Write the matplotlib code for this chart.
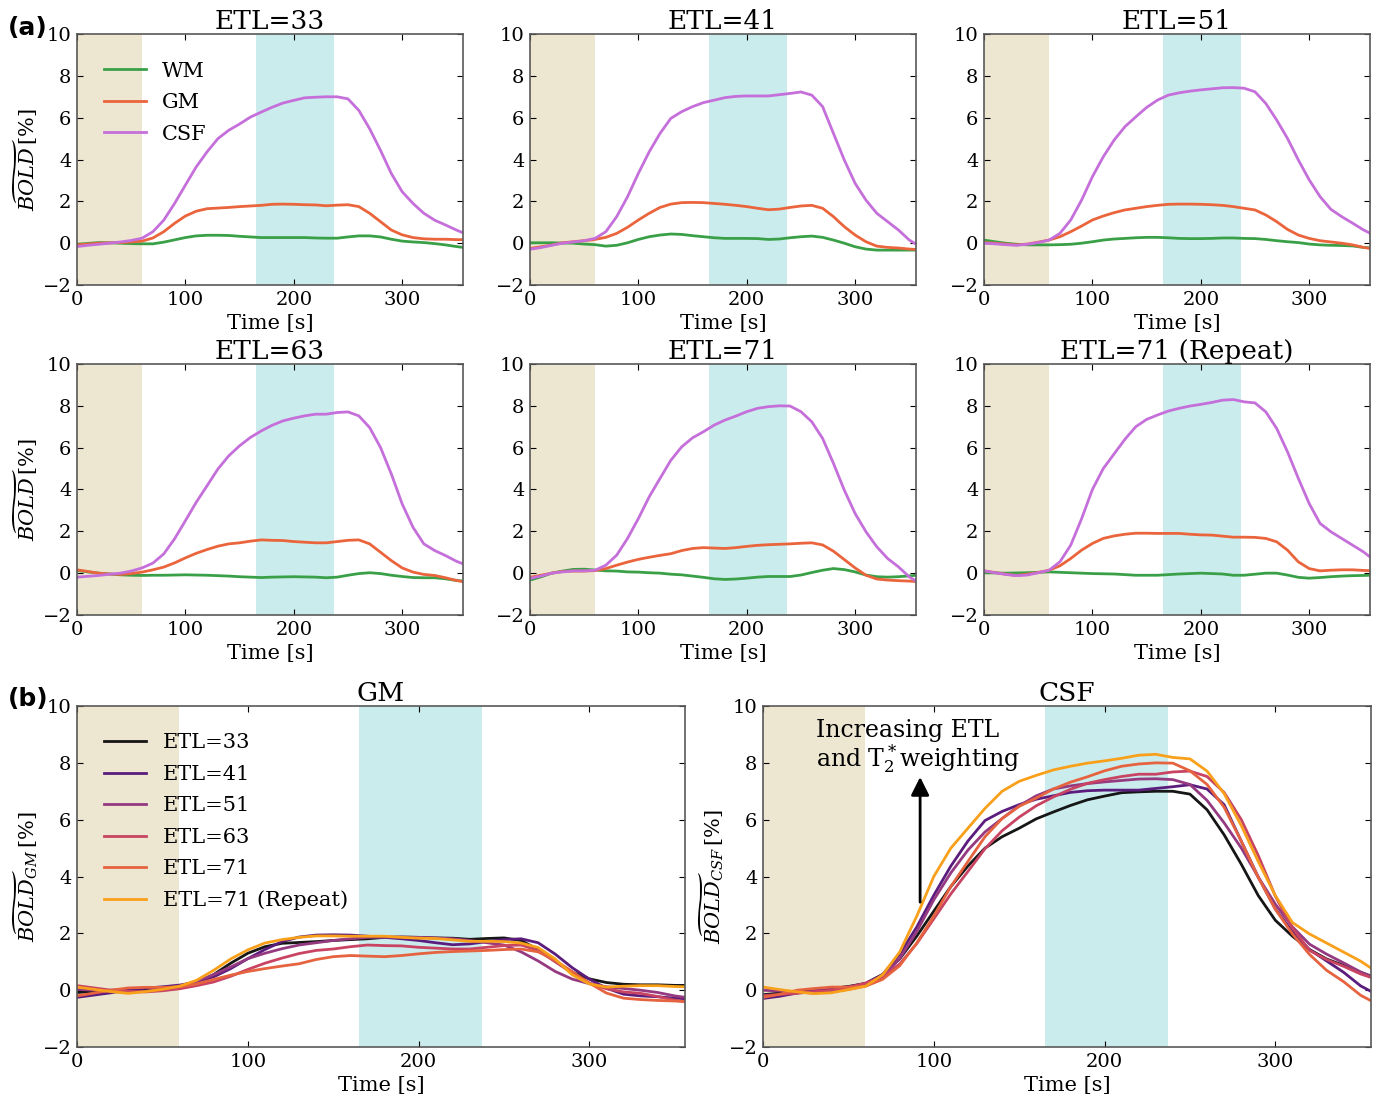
import numpy as np
import matplotlib
matplotlib.use("Agg")
import matplotlib.pyplot as plt

# ── Time axis (s) and stimulus windows ─────────────────────────────────────────
TIME = [0, 10, 20, 30, 40, 50, 60, 70, 80, 90, 100, 110, 120, 130, 140, 150,
        160, 170, 180, 190, 200, 210, 220, 230, 240, 250, 260, 270, 280, 290,
        300, 310, 320, 330, 340, 350, 356]
BASELINE_WIN = (0, 60)
PLATEAU_WIN = (165, 237)

RUNS = ["ETL=33", "ETL=41", "ETL=51", "ETL=63", "ETL=71", "ETL=71 (Repeat)"]

# ── Tissue-averaged BOLD time courses (%) ──────────────────────────────────────
wm_33 = [-0.05, -0.01, 0.03, 0.02, 0.0, -0.02, -0.03, -0.03, 0.05, 0.16, 0.27,
         0.35, 0.38, 0.38, 0.37, 0.33, 0.3, 0.27, 0.27, 0.27, 0.27, 0.27, 0.25,
         0.24, 0.24, 0.3, 0.35, 0.35, 0.3, 0.19, 0.1, 0.06, 0.03, -0.02, -0.08,
         -0.16, -0.2]
gm_33 = [-0.08, -0.04, 0.0, 0.02, 0.03, 0.06, 0.1, 0.25, 0.55, 0.95, 1.3, 1.53,
         1.65, 1.68, 1.71, 1.75, 1.78, 1.81, 1.86, 1.87, 1.86, 1.84, 1.83, 1.79,
         1.82, 1.84, 1.75, 1.43, 1.03, 0.63, 0.4, 0.27, 0.21, 0.19, 0.19, 0.17,
         0.17]
csf_33 = [-0.16, -0.1, -0.05, 0.0, 0.06, 0.13, 0.24, 0.55, 1.1, 1.9, 2.78, 3.65,
          4.37, 5.0, 5.4, 5.7, 6.03, 6.27, 6.5, 6.7, 6.83, 6.95, 6.98, 7.0, 7.0,
          6.9, 6.35, 5.47, 4.44, 3.33, 2.46, 1.9, 1.43, 1.1, 0.87, 0.63, 0.5]

wm_41 = [0.02, 0.02, 0.02, 0.01, 0.0, -0.04, -0.07, -0.14, -0.1, 0.02, 0.18,
         0.31, 0.39, 0.44, 0.42, 0.36, 0.31, 0.26, 0.23, 0.23, 0.23, 0.22, 0.18,
         0.2, 0.26, 0.31, 0.34, 0.28, 0.15, 0.0, -0.17, -0.28, -0.33, -0.33,
         -0.33, -0.33, -0.33]
gm_41 = [-0.25, -0.17, -0.09, 0.02, 0.07, 0.12, 0.18, 0.28, 0.47, 0.76, 1.11,
         1.43, 1.71, 1.87, 1.94, 1.95, 1.94, 1.9, 1.86, 1.81, 1.75, 1.67, 1.6,
         1.63, 1.71, 1.78, 1.81, 1.67, 1.27, 0.79, 0.39, 0.07, -0.14, -0.2,
         -0.23, -0.28, -0.3]
csf_41 = [-0.29, -0.21, -0.1, 0.0, 0.06, 0.12, 0.23, 0.55, 1.27, 2.22, 3.34,
          4.37, 5.25, 5.97, 6.29, 6.53, 6.72, 6.84, 6.96, 7.02, 7.04, 7.04, 7.04,
          7.1, 7.16, 7.23, 7.08, 6.53, 5.25, 3.98, 2.86, 2.06, 1.43, 1.03, 0.63,
          0.15, -0.04]

wm_51 = [0.15, 0.07, 0.0, -0.05, -0.08, -0.08, -0.08, -0.07, -0.05, 0.0, 0.07,
         0.15, 0.2, 0.23, 0.26, 0.28, 0.28, 0.26, 0.23, 0.22, 0.22, 0.23, 0.25,
         0.25, 0.23, 0.22, 0.18, 0.12, 0.07, 0.03, -0.04, -0.08, -0.1, -0.11,
         -0.13, -0.2, -0.22]
gm_51 = [0.03, 0.0, -0.04, -0.08, -0.04, 0.05, 0.15, 0.31, 0.55, 0.82, 1.11,
         1.3, 1.46, 1.59, 1.67, 1.75, 1.81, 1.86, 1.87, 1.87, 1.86, 1.84, 1.81,
         1.75, 1.67, 1.59, 1.35, 1.03, 0.66, 0.39, 0.23, 0.12, 0.06, 0.0, -0.08,
         -0.2, -0.25]
csf_51 = [0.0, -0.03, -0.07, -0.1, -0.05, 0.03, 0.15, 0.47, 1.11, 2.06, 3.18,
          4.13, 4.93, 5.57, 6.04, 6.49, 6.84, 7.08, 7.19, 7.27, 7.33, 7.38, 7.43,
          7.44, 7.41, 7.24, 6.68, 5.89, 5.01, 3.98, 3.03, 2.23, 1.62, 1.27, 0.96,
          0.64, 0.48]

wm_63 = [0.13, 0.06, 0.0, -0.04, -0.08, -0.1, -0.11, -0.1, -0.1, -0.09, -0.08,
         -0.09, -0.1, -0.12, -0.14, -0.17, -0.19, -0.21, -0.19, -0.18, -0.17,
         -0.18, -0.19, -0.22, -0.19, -0.1, -0.02, 0.02, -0.02, -0.1, -0.16,
         -0.21, -0.22, -0.22, -0.27, -0.35, -0.38]
gm_63 = [0.16, 0.08, 0.0, -0.04, -0.06, -0.02, 0.05, 0.16, 0.29, 0.49, 0.73,
         0.95, 1.13, 1.29, 1.4, 1.45, 1.53, 1.59, 1.57, 1.56, 1.51, 1.48, 1.45,
         1.45, 1.51, 1.57, 1.59, 1.4, 1.0, 0.6, 0.25, 0.05, -0.06, -0.11, -0.22,
         -0.35, -0.4]
csf_63 = [-0.19, -0.15, -0.11, -0.05, 0.0, 0.1, 0.25, 0.48, 0.92, 1.64, 2.51,
          3.39, 4.18, 4.98, 5.61, 6.09, 6.49, 6.8, 7.07, 7.28, 7.41, 7.52, 7.6,
          7.6, 7.68, 7.71, 7.52, 6.96, 6.01, 4.74, 3.31, 2.19, 1.4, 1.08, 0.84,
          0.57, 0.45]

wm_71 = [-0.33, -0.18, 0.0, 0.1, 0.18, 0.19, 0.15, 0.11, 0.1, 0.06, 0.05, 0.02,
         0.0, -0.05, -0.08, -0.14, -0.2, -0.27, -0.3, -0.28, -0.24, -0.19,
         -0.16, -0.16, -0.16, -0.09, 0.03, 0.14, 0.22, 0.17, 0.06, -0.09, -0.17,
         -0.19, -0.17, -0.13, -0.1]
gm_71 = [-0.2, -0.1, 0.0, 0.08, 0.1, 0.1, 0.12, 0.22, 0.38, 0.53, 0.66, 0.76,
         0.85, 0.93, 1.08, 1.18, 1.22, 1.2, 1.18, 1.22, 1.28, 1.33, 1.36, 1.38,
         1.4, 1.43, 1.45, 1.35, 1.05, 0.65, 0.25, -0.1, -0.28, -0.33, -0.36,
         -0.38, -0.4]
csf_71 = [-0.25, -0.14, 0.0, 0.06, 0.11, 0.11, 0.14, 0.38, 0.86, 1.66, 2.61,
          3.65, 4.53, 5.4, 6.04, 6.47, 6.76, 7.08, 7.32, 7.51, 7.72, 7.88, 7.96,
          8.0, 7.99, 7.72, 7.24, 6.44, 5.25, 3.97, 2.85, 1.98, 1.26, 0.7, 0.3,
          -0.18, -0.37]

wm_71r = [0.02, 0.01, 0.0, 0.01, 0.02, 0.04, 0.06, 0.04, 0.02, 0.0, -0.02,
          -0.03, -0.04, -0.07, -0.1, -0.1, -0.1, -0.07, -0.04, -0.02, 0.0,
          -0.02, -0.04, -0.1, -0.1, -0.05, 0.0, 0.0, -0.09, -0.2, -0.24, -0.21,
          -0.17, -0.14, -0.12, -0.11, -0.1]
gm_71r = [0.11, 0.03, -0.05, -0.11, -0.05, 0.03, 0.14, 0.35, 0.7, 1.1, 1.42,
          1.66, 1.78, 1.86, 1.91, 1.91, 1.9, 1.9, 1.9, 1.86, 1.83, 1.82, 1.77,
          1.72, 1.72, 1.71, 1.66, 1.5, 1.1, 0.54, 0.22, 0.11, 0.14, 0.16, 0.16,
          0.13, 0.12]
csf_71r = [0.11, 0.02, -0.06, -0.12, -0.09, 0.02, 0.14, 0.54, 1.34, 2.6, 4.0,
           5.0, 5.7, 6.4, 7.0, 7.35, 7.56, 7.75, 7.88, 7.99, 8.07, 8.16, 8.27,
           8.3, 8.19, 8.14, 7.71, 6.92, 5.8, 4.53, 3.33, 2.38, 1.98, 1.66, 1.34,
           1.02, 0.78]

WM = [wm_33, wm_41, wm_51, wm_63, wm_71, wm_71r]
GM = [gm_33, gm_41, gm_51, gm_63, gm_71, gm_71r]
CSF = [csf_33, csf_41, csf_51, csf_63, csf_71, csf_71r]

# ── Style ──────────────────────────────────────────────────────────────────────
TISSUE_COLORS = {"WM": "#3aa048", "GM": "#ea643c", "CSF": "#c56fda"}
RUN_COLORS = ["#161616", "#5b1d7d", "#953a81", "#c84462", "#e6633f", "#f9a01b"]
BASE_COLOR = "#ede6d1"
PLAT_COLOR = "#cbeced"
LW = 2.0
XLIM = (0, 356)
YLIM = (-2, 10)

plt.rcParams.update({
    "font.family": "DejaVu Serif",
    "mathtext.fontset": "dejavuserif",
    "xtick.direction": "in",
    "ytick.direction": "in",
    "xtick.top": True,
    "ytick.right": True,
    "xtick.major.size": 4,
    "ytick.major.size": 4,
    "xtick.major.pad": 4,
    "ytick.major.pad": 4,
    "axes.edgecolor": "0.35",
    "axes.linewidth": 1.2,
    "xtick.labelsize": 14,
    "ytick.labelsize": 14,
    "axes.labelsize": 15,
    "lines.solid_joinstyle": "round",
})

LEGEND_KW = dict(loc="upper left", frameon=False, fontsize=15,
                 handlelength=2.0, handletextpad=0.8, labelspacing=0.6,
                 borderaxespad=0.0, borderpad=0.0)


def style_axes(ax, title, ylabel=None):
    ax.axvspan(*BASELINE_WIN, color=BASE_COLOR, lw=0, zorder=0)
    ax.axvspan(*PLATEAU_WIN, color=PLAT_COLOR, lw=0, zorder=0)
    ax.set_xlim(*XLIM)
    ax.set_ylim(*YLIM)
    ax.set_xticks([0, 100, 200, 300])
    ax.set_yticks([-2, 0, 2, 4, 6, 8, 10])
    ax.set_title(title, fontsize=19, pad=2)
    ax.set_xlabel("Time [s]", labelpad=4)
    if ylabel:
        ax.set_ylabel(ylabel, labelpad=2)


fig = plt.figure(figsize=(13.78, 10.98), dpi=100)

# ── (a) per-run panels, three tissues each ─────────────────────────────────────
col_left = [0.0559, 0.3846, 0.7141]
row_bottom = [0.7404, 0.4399]
for i, run in enumerate(RUNS):
    r, c = divmod(i, 3)
    ax = fig.add_axes([col_left[c], row_bottom[r], 0.2800, 0.2286])
    ax.plot(TIME, WM[i], color=TISSUE_COLORS["WM"], lw=LW, label="WM")
    ax.plot(TIME, GM[i], color=TISSUE_COLORS["GM"], lw=LW, label="GM")
    ax.plot(TIME, CSF[i], color=TISSUE_COLORS["CSF"], lw=LW, label="CSF")
    style_axes(ax, run, r"$\widetilde{BOLD}\,$[%]" if c == 0 else None)
    if i == 0:
        ax.legend(bbox_to_anchor=(0.07, 0.89), **LEGEND_KW)

# ── (b) GM and CSF across runs ─────────────────────────────────────────────────
ax_gm = fig.add_axes([0.0559, 0.0464, 0.4412, 0.3106])
ax_csf = fig.add_axes([0.5537, 0.0464, 0.4412, 0.3106])
for i, run in enumerate(RUNS):
    ax_gm.plot(TIME, GM[i], color=RUN_COLORS[i], lw=LW, label=run)
    ax_csf.plot(TIME, CSF[i], color=RUN_COLORS[i], lw=LW, label=run)
style_axes(ax_gm, "GM", r"$\widetilde{BOLD}_{GM}\,$[%]")
style_axes(ax_csf, "CSF", r"$\widetilde{BOLD}_{CSF}\,$[%]")
ax_gm.legend(bbox_to_anchor=(0.045, 0.92), **LEGEND_KW)

ax_csf.annotate("", xy=(92, 7.6), xytext=(92, 3.0),
                arrowprops=dict(arrowstyle="-|>,head_width=0.55,head_length=1.1",
                                color="black", lw=2))
ax_csf.text(31, 9.55, "Increasing ETL\nand T$_2^*$weighting", fontsize=17,
            va="top", ha="left", linespacing=1.0)

fig.text(0.006, 0.968, "(a)", fontsize=18, fontweight="bold",
         family="DejaVu Sans")
fig.text(0.006, 0.357, "(b)", fontsize=18, fontweight="bold",
         family="DejaVu Sans")

fig.savefig("out.png", dpi=100, facecolor="white")
